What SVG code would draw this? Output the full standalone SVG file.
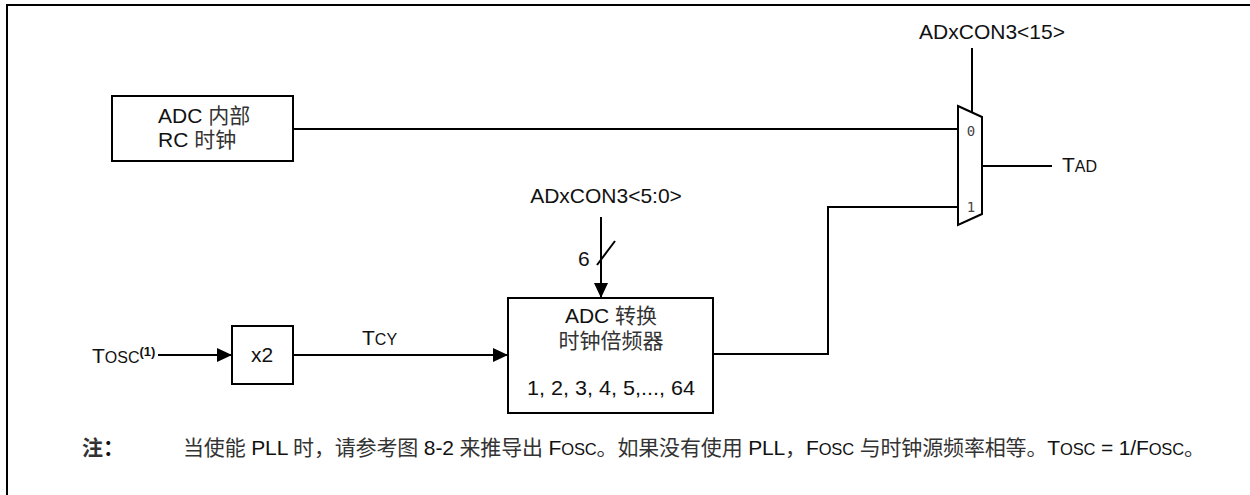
<svg xmlns="http://www.w3.org/2000/svg" width="1250" height="495" viewBox="0 0 1250 495">
<style>
.box{fill:#fff;stroke:#000;stroke-width:2}
.wire{fill:none;stroke:#000;stroke-width:2}
.t{font-family:"Liberation Sans","Noto Sans CJK SC",sans-serif;font-size:21px;fill:#111}
.cjk{font-family:"Noto Sans CJK SC",sans-serif;fill:#333}
.sm{font-size:16px}
.mono{font-family:"DejaVu Sans Mono",monospace;font-size:14px;fill:#444}
.nsm{font-size:16.5px}
</style>
<defs>
<marker id="arr" markerWidth="15" markerHeight="14" refX="15" refY="7" orient="auto" markerUnits="userSpaceOnUse">
<path d="M0,0 L15,7 L0,14 Z" fill="#000"/>
</marker>
</defs>
<rect x="7" y="5" width="1260" height="500" fill="none" stroke="#000" stroke-width="2"/>
<g id="connectors">
<path class="wire" d="M293,129 H958"/>
<path class="wire" d="M972,48 V112"/>
<path class="wire" d="M982,166 H1052"/>
<path class="wire" d="M713,354 H828 V207 H958"/>
<path class="wire" d="M601,217 V298" marker-end="url(#arr)"/>
<path class="wire" d="M597,265 L615,241" stroke-width="1.2"/>
<path class="wire" d="M158,355 H232" marker-end="url(#arr)"/>
<path class="wire" d="M293,355 H508" marker-end="url(#arr)"/>
</g>
<g id="rc">
<rect class="box" x="112" y="96" width="181" height="65"/>
<text class="t" x="158" y="123">ADC <tspan class="cjk">内部</tspan></text>
<text class="t" x="158" y="147">RC <tspan class="cjk">时钟</tspan></text>
</g>
<g id="mux">
<path class="box" d="M958,106 L982,117 L982,214 L958,225 Z" stroke-width="1.5"/>
<text class="mono" x="971" y="136" text-anchor="middle">0</text>
<text class="mono" x="971" y="212" text-anchor="middle">1</text>
</g>
<g id="sel15"><text class="t" x="992" y="39" text-anchor="middle">ADxCON3&lt;15&gt;</text></g>
<g id="tad"><text class="t" x="1062" y="172" font-size="20">T<tspan class="sm">AD</tspan></text></g>
<g id="sel50"><text class="t" x="606" y="203" text-anchor="middle">ADxCON3&lt;5:0&gt;</text>
<text class="t" x="578" y="266" font-size="19">6</text></g>
<g id="mult">
<rect class="box" x="508" y="298" width="205" height="115"/>
<text class="t" x="611" y="323" text-anchor="middle">ADC <tspan class="cjk">转换</tspan></text>
<text class="t cjk" x="611" y="348" text-anchor="middle">时钟倍频器</text>
<text class="t" x="611" y="395" text-anchor="middle" textLength="168" lengthAdjust="spacingAndGlyphs">1, 2, 3, 4, 5,..., 64</text>
</g>
<g id="x2">
<rect class="box" x="232" y="326" width="61" height="58"/>
<text class="t" x="262" y="362" text-anchor="middle" font-size="20">x2</text>
</g>
<g id="tosc"><text class="t" x="92" y="363" font-size="20">T<tspan class="sm">OSC</tspan><tspan font-size="13" font-weight="bold" dy="-7">(1)</tspan></text></g>
<g id="tcy"><text class="t" x="362" y="345" font-size="20">T<tspan class="sm">CY</tspan></text></g>
<g id="note">
<text class="t" x="82" y="455" font-weight="bold"><tspan class="cjk" font-weight="bold" fill="#000">注</tspan>：</text>
<text class="t" x="183" y="455" textLength="1022" lengthAdjust="spacing"><tspan class="cjk">当使能</tspan> PLL <tspan class="cjk">时，请参考图</tspan> 8-2 <tspan class="cjk">来推导出</tspan> F<tspan class="nsm">OSC</tspan><tspan class="cjk">。如果没有使用</tspan> PLL<tspan class="cjk">，</tspan>F<tspan class="nsm">OSC</tspan> <tspan class="cjk">与时钟源频率相等。</tspan>T<tspan class="nsm">OSC</tspan> = 1/F<tspan class="nsm">OSC</tspan><tspan class="cjk">。</tspan></text>
</g>
</svg>
